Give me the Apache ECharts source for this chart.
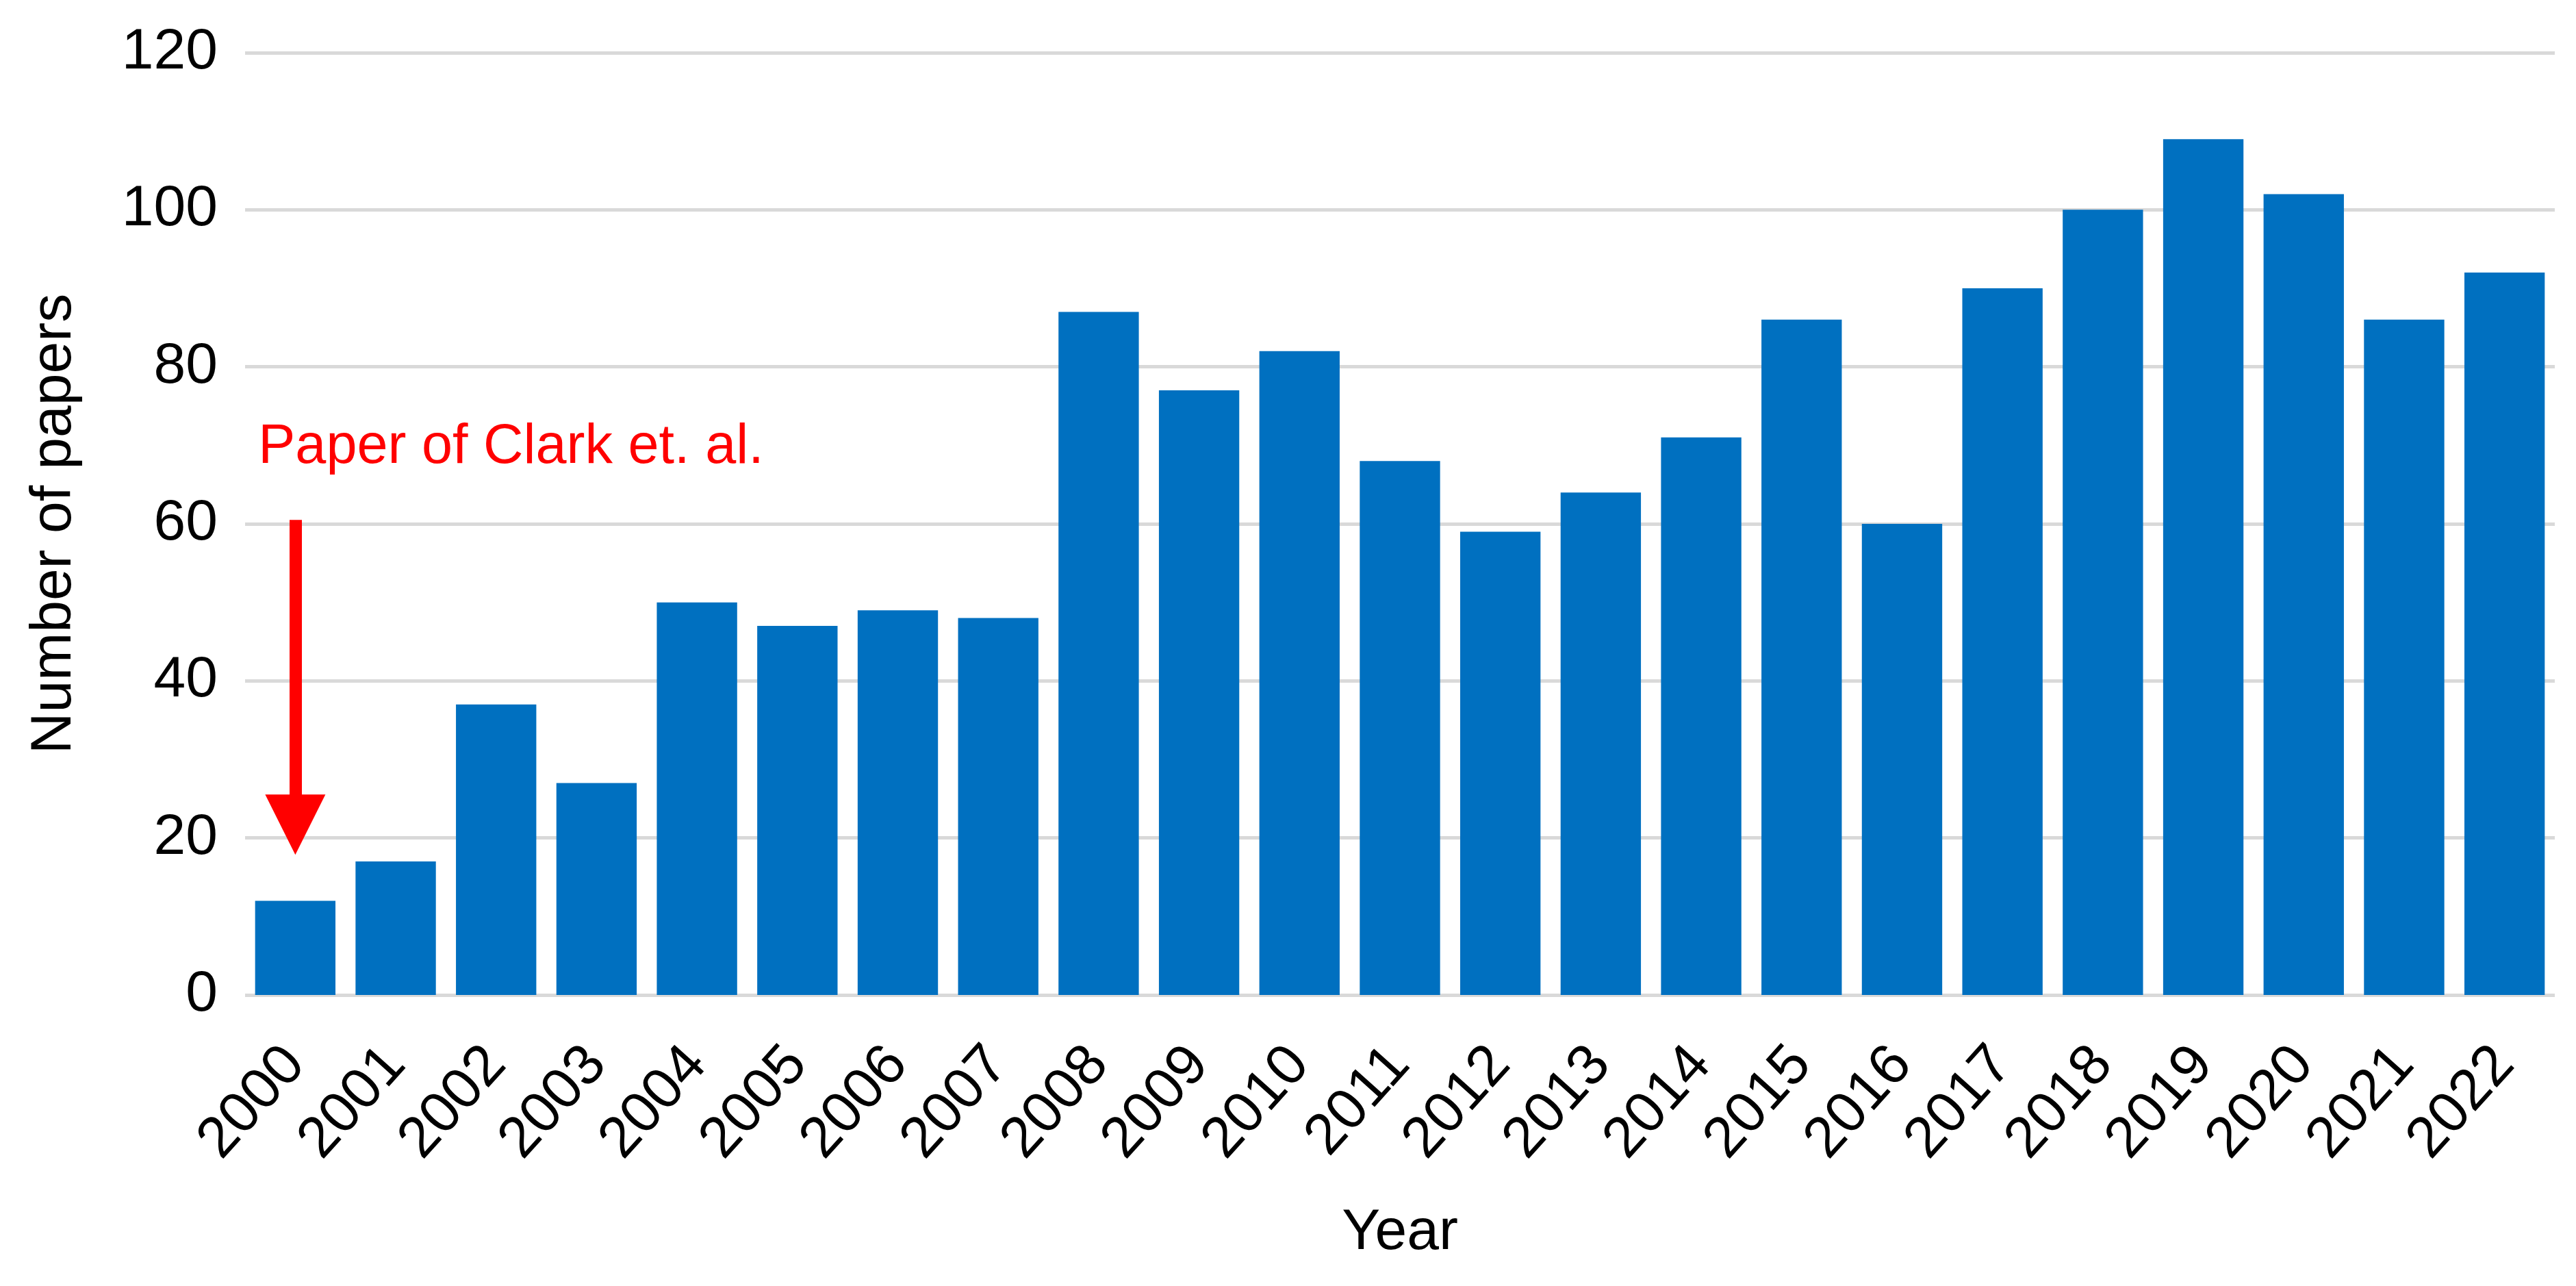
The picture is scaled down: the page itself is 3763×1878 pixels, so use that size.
<!DOCTYPE html>
<html>
<head>
<meta charset="utf-8">
<script src="https://cdn.jsdelivr.net/npm/echarts@6/dist/echarts.min.js"></script>
<style>
  html, body { margin: 0; padding: 0; background: #fff; }
  #paperChartMain { width: 3763px; height: 1878px; }
</style>
</head>
<body>
<div id="paperChartMain"></div>
<script>
// data
const years = ['2000', '2001', '2002', '2003', '2004', '2005', '2006', '2007', '2008', '2009', '2010', '2011',
  '2012', '2013', '2014', '2015', '2016', '2017', '2018', '2019', '2020', '2021', '2022'];
const papers = [12, 17, 37, 27, 50, 47, 49, 48, 87, 77, 82, 68, 59, 64, 71, 86, 60, 90, 100, 109, 102, 86, 92];
const yMin = 0;
const yMax = 120;
const yStep = 20;

// annotation: arrow from 60.5 down to ~18 on the 2000 bar
const noteYear = '2000';
const noteText = 'Paper of Clark et. al.';
const noteTextAt = 69.7;
const arrowStart = 60.5;
const arrowHeadCenter = 21.7;

const font = '"Liberation Sans", Arial, sans-serif';

initPaperChart();

function initPaperChart() {
  const chart = echarts.init(document.getElementById('paperChartMain'));
  const option = {
    animation: false,
    textStyle: { fontFamily: font },
    grid: { left: 358, right: 31, top: 77, bottom: 425, containLabel: false },
    xAxis: {
      type: 'category',
      data: years,
      name: 'Year',
      nameLocation: 'middle',
      nameGap: 306,
      nameTextStyle: { fontSize: 84, color: '#000', fontFamily: font },
      axisLine: { show: false },
      axisTick: { show: false },
      axisLabel: { rotate: 48, fontSize: 84, color: '#000', margin: 88, fontFamily: font, interval: 0 }
    },
    yAxis: {
      type: 'value',
      min: yMin,
      max: yMax,
      interval: yStep,
      name: 'Number of papers',
      nameLocation: 'middle',
      nameRotate: 90,
      nameGap: 236,
      nameTextStyle: { fontSize: 84, color: '#000', fontFamily: font },
      axisLine: { show: false },
      axisTick: { show: false },
      axisLabel: { fontSize: 84, color: '#000', margin: 40, fontFamily: font },
      splitLine: { lineStyle: { color: '#d9d9d9', width: 5 } }
    },
    series: [
      {
        name: 'papers',
        type: 'bar',
        data: papers,
        barCategoryGap: '20%',
        itemStyle: { color: '#0070C0' },
        silent: true,
        markLine: {
          silent: true,
          animation: false,
          symbol: ['none', 'triangle'],
          label: { show: false },
          lineStyle: { color: '#FF0000', width: 18, type: 'solid' },
          data: [
            [
              { coord: [noteYear, arrowStart], symbol: 'none' },
              { coord: [noteYear, arrowHeadCenter], symbol: 'triangle', symbolSize: [88, 88] }
            ]
          ]
        },
        markPoint: {
          silent: true,
          animation: false,
          symbol: 'circle',
          symbolSize: 0,
          data: [
            {
              coord: [noteYear, noteTextAt],
              label: {
                show: true,
                position: 'inside',
                formatter: noteText,
                align: 'left',
                offset: [-54, 0],
                color: '#FF0000',
                fontSize: 81,
                fontFamily: font
              }
            }
          ]
        }
      }
    ]
  };
  chart.setOption(option);
}
</script>
</body>
</html>
